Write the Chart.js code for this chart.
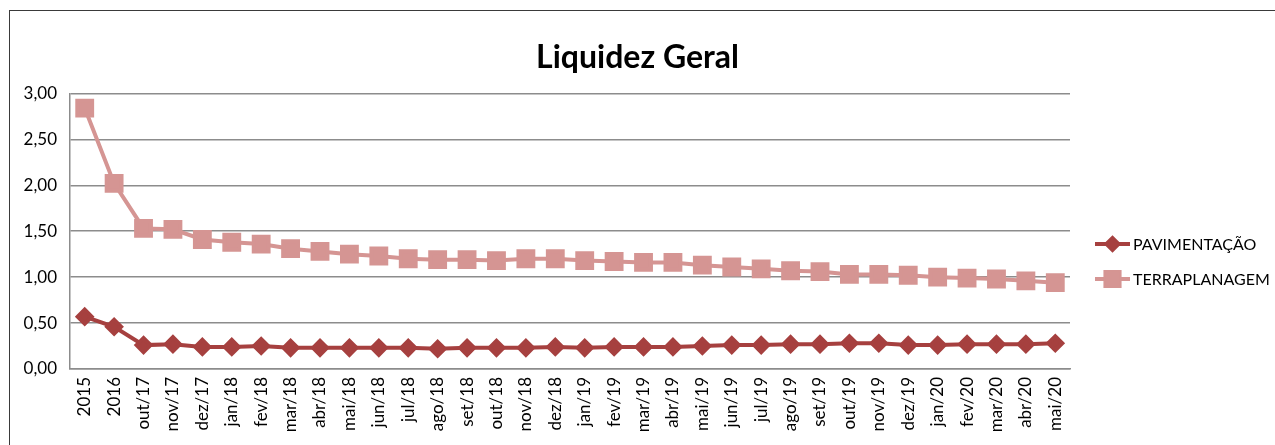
<!DOCTYPE html>
<html>
<head>
<meta charset="utf-8">
<script src="https://cdn.jsdelivr.net/npm/chart.js@4"></script>
<style>
    html, body { margin: 0; padding: 0; background: #fff; }
    #wrap { position: relative; width: 1275px; height: 445px; }
    #frame {
        position: absolute; left: 9px; top: 10px; width: 1300px; height: 500px;
        border-left: 1.5px solid #3a3a3a; border-top: 1.5px solid #3a3a3a;
        pointer-events: none;
    }
</style>
</head>
<body>
<div id="wrap">
    <canvas id="liquidezChart" width="1275" height="445"></canvas>
    <div id="frame"></div>
</div>
<script>
/* Liquidez Geral chart */
var labels = [
    "2015", "2016", "out/17", "nov/17", "dez/17", "jan/18", "fev/18", "mar/18",
    "abr/18", "mai/18", "jun/18", "jul/18", "ago/18", "set/18", "out/18", "nov/18",
    "dez/18", "jan/19", "fev/19", "mar/19", "abr/19", "mai/19", "jun/19", "jul/19",
    "ago/19", "set/19", "out/19", "nov/19", "dez/19", "jan/20", "fev/20", "mar/20",
    "abr/20", "mai/20"
];

var pavimentacao = [
    0.57, 0.46, 0.26, 0.27, 0.24, 0.24, 0.25, 0.23,
    0.23, 0.23, 0.23, 0.23, 0.22, 0.23, 0.23, 0.23,
    0.24, 0.23, 0.24, 0.24, 0.24, 0.25, 0.26, 0.26,
    0.27, 0.27, 0.28, 0.28, 0.26, 0.26, 0.27, 0.27,
    0.27, 0.28
];

var terraplanagem = [
    2.84, 2.02, 1.53, 1.52, 1.41, 1.38, 1.36, 1.31,
    1.28, 1.25, 1.23, 1.20, 1.19, 1.19, 1.18, 1.20,
    1.20, 1.18, 1.17, 1.16, 1.16, 1.13, 1.11, 1.09,
    1.07, 1.06, 1.03, 1.03, 1.02, 1.00, 0.99, 0.98,
    0.96, 0.94
];

var FONT = "Lato, 'Open Sans', sans-serif";

// Legend on the right: short line with the series marker, then the name.
var sideLegend = {
    id: "sideLegend",
    afterDraw: function (chart) {
        var ctx = chart.ctx;
        var area = chart.chartArea;
        var x0 = area.right + 25;
        var rows = [244, 279];
        chart.data.datasets.forEach(function (ds, i) {
            var y = rows[i];
            ctx.save();
            ctx.strokeStyle = ds.borderColor;
            ctx.lineWidth = 4;
            ctx.beginPath();
            ctx.moveTo(x0, y);
            ctx.lineTo(x0 + 35, y);
            ctx.stroke();
            Chart.helpers.drawPoint(ctx, {
                pointStyle: ds.pointStyle,
                radius: ds.legendRadius,
                borderWidth: 1
            }, x0 + 17.5, y);
            ctx.fillStyle = ds.pointBackgroundColor;
            ctx.fill();
            ctx.fillStyle = "#000";
            ctx.font = "16px " + FONT;
            ctx.textBaseline = "middle";
            ctx.textAlign = "left";
            ctx.fillText(ds.label, x0 + 38, y + 1);
            ctx.restore();
        });
    }
};

new Chart(document.getElementById("liquidezChart"), {
    type: "line",
    data: {
        labels: labels,
        datasets: [
            {
                label: "PAVIMENTAÇÃO",
                data: pavimentacao,
                borderColor: "#a6403f",
                backgroundColor: "#a6403f",
                pointBackgroundColor: "#a6403f",
                pointBorderColor: "#a6403f",
                pointStyle: "rectRot",
                pointRadius: 7,
                borderWidth: 4,
                legendRadius: 6,
                tension: 0
            },
            {
                label: "TERRAPLANAGEM",
                data: terraplanagem,
                borderColor: "#d59593",
                backgroundColor: "#d59593",
                pointBackgroundColor: "#d59593",
                pointBorderColor: "#d59593",
                pointStyle: "rect",
                pointRadius: 10.5,
                borderWidth: 4,
                legendRadius: 10,
                tension: 0
            }
        ]
    },
    options: {
        responsive: false,
        animation: false,
        layout: { padding: { top: 12, right: 0, left: 0, bottom: 0 } },
        plugins: {
            legend: { display: false },
            tooltip: { enabled: false },
            title: {
                display: true,
                text: "Liquidez Geral",
                color: "#000",
                font: { family: FONT, size: 32, weight: "bold", lineHeight: 1.2 },
                padding: { top: 26, bottom: 17 }
            }
        },
        scales: {
            x: {
                offset: true,
                grid: { display: false, drawTicks: false },
                border: { display: true, color: "#8c8c8c", width: 1.5 },
                ticks: {
                    color: "#000",
                    font: { family: FONT, size: 17 },
                    minRotation: 90,
                    maxRotation: 90,
                    autoSkip: false,
                    padding: 8
                },
                afterFit: function (scale) { scale.height = 76; }
            },
            y: {
                min: 0,
                max: 3,
                grid: { color: "#8c8c8c", lineWidth: 1.5, drawTicks: false },
                border: { display: true, color: "#8c8c8c", width: 1.5 },
                ticks: {
                    stepSize: 0.5,
                    color: "#000",
                    font: { family: FONT, size: 17 },
                    padding: 13,
                    callback: function (v) { return v.toFixed(2).replace(".", ","); }
                },
                afterFit: function (scale) { scale.width = 70; }
            },
            // empty right-hand band that holds the legend
            legendBand: {
                position: "right",
                display: true,
                grid: { display: false },
                border: { display: false },
                ticks: { display: false },
                afterFit: function (scale) { scale.width = 205; }
            }
        }
    },
    plugins: [sideLegend]
});
</script>
</body>
</html>
